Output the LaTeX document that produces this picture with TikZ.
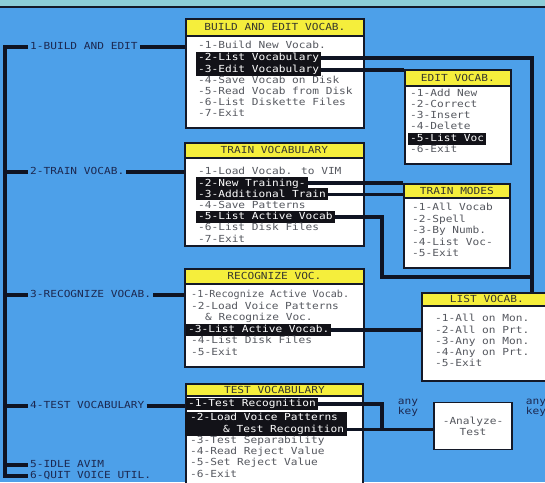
\documentclass[tikz,border=0pt]{standalone}
\usepackage{fontspec}
\newfontfamily\mono[FakeStretch=1.15]{DejaVu Sans Mono}
\newfontfamily\monon[FakeStretch=1.04]{DejaVu Sans Mono}
\definecolor{bgblue}{RGB}{77,160,233}
\definecolor{topband}{RGB}{140,205,215}
\definecolor{titleyellow}{RGB}{245,238,60}
\definecolor{boxline}{RGB}{20,25,40}
\definecolor{linedark}{RGB}{15,20,35}
\definecolor{hlblack}{RGB}{18,18,24}
\definecolor{itemgray}{RGB}{85,88,95}
\definecolor{titletext}{RGB}{55,55,45}
\definecolor{navy}{RGB}{28,40,80}
\begin{document}
\begin{tikzpicture}[x=1pt,y=-1pt,
 txt/.style={font=\mono\fontsize{9.7}{11.2}\selectfont, anchor=west, inner xsep=2pt, inner ysep=0.7pt, text height=8.3pt, text depth=2.4pt, text=itemgray},
 hl/.style={txt, fill=hlblack, text=white},
 lab/.style={txt, text=navy},
 menubox/.style={draw=boxline, line width=1.8pt, fill=white, anchor=north west, inner sep=0pt},
 titlebar/.style={menubox, fill=titleyellow, font=\mono\fontsize{9.7}{11}\selectfont, text=titletext},
 conn/.style={draw=linedark, line width=3.5pt, line join=miter}]
\useasboundingbox (0,0) rectangle (545,482);
\fill[bgblue] (0,0) rectangle (545,482);
\fill[topband] (0,0) rectangle (545,6);
\draw[boxline, line width=1.2pt] (0,7) -- (545,7);

% left menu
\node[lab] (lab1) at (28,47) {1-BUILD AND EDIT};
\node[lab] (lab2) at (28,172) {2-TRAIN VOCAB.};
\node[lab] (lab3) at (28,295) {3-RECOGNIZE VOCAB.};
\node[lab] (lab4) at (28,406) {4-TEST VOCABULARY};
\node[lab] (lab5) at (28,465) {5-IDLE AVIM};
\node[lab] (lab6) at (28,476) {6-QUIT VOICE UTIL.};

% BUILD AND EDIT VOCAB.
\node[menubox, minimum width=178pt, minimum height=109pt] (bev) at (185,18) {};
\node[titlebar, minimum width=178pt, minimum height=17pt] (bevt) at (185,18) {BUILD AND EDIT VOCAB.};
\node[txt] (b1) at (196,46) {-1-Build New Vocab.};
\node[hl] (b2) at (196,58) {-2-List Vocabulary};
\node[hl] (b3) at (196,70) {-3-Edit Vocabulary};
\node[txt] (b4) at (196,81) {-4-Save Vocab on Disk};
\node[txt] (b5) at (196,92) {-5-Read Vocab from Disk};
\node[txt] (b6) at (196,103) {-6-List Diskette Files};
\node[txt] (b7) at (196,114) {-7-Exit};

% EDIT VOCAB.
\node[menubox, minimum width=106pt, minimum height=94pt] (evb) at (404,69) {};
\node[titlebar, minimum width=106pt, minimum height=16pt] (evt) at (404,69) {EDIT VOCAB.};
\node[txt] (e1) at (408,94) {-1-Add New};
\node[txt] (e2) at (408,105) {-2-Correct};
\node[txt] (e3) at (408,116) {-3-Insert};
\node[txt] (e4) at (408,127) {-4-Delete};
\node[hl] (e5) at (408,139) {-5-List Voc};
\node[txt] (e6) at (408,150) {-6-Exit};

% TRAIN VOCABULARY
\node[menubox, minimum width=179pt, minimum height=103pt] (tvb) at (184,142) {};
\node[titlebar, minimum width=179pt, minimum height=15pt] (tvt) at (184,142) {TRAIN VOCABULARY};
\node[txt] (t1) at (196,172) {-1-Load Vocab. to VIM};
\node[hl] (t2) at (196,183.2) {-2-New Training-};
\node[hl] (t3) at (196,194.4) {-3-Additional Train};
\node[txt] (t4) at (196,205.6) {-4-Save Patterns};
\node[hl] (t5) at (196,216.8) {-5-List Active Vocab};
\node[txt] (t6) at (196,228) {-6-List Disk Files};
\node[txt] (t7) at (196,239.2) {-7-Exit};

% TRAIN MODES
\node[menubox, minimum width=106pt, minimum height=84pt] (tmb) at (403,183) {};
\node[titlebar, minimum width=106pt, minimum height=14pt] (tmt) at (403,183) {TRAIN MODES};
\node[txt] (m1) at (410,208) {-1-All Vocab};
\node[txt] (m2) at (410,219.5) {-2-Spell};
\node[txt] (m3) at (410,231) {-3-By Numb.};
\node[txt] (m4) at (410,242.5) {-4-List Voc-};
\node[txt] (m5) at (410,254) {-5-Exit};

% RECOGNIZE VOC.
\node[menubox, minimum width=179pt, minimum height=98pt] (rvb) at (184,268) {};
\node[titlebar, minimum width=179pt, minimum height=15pt] (rvt) at (184,268) {RECOGNIZE VOC.};
\node[txt, font=\monon\fontsize{9.7}{11.2}\selectfont] (r1) at (189,295) {-1-Recognize Active Vocab.};
\node[txt] (r2) at (189,307) {-2-Load Voice Patterns};
\node[txt] (r3) at (203,318) {\& Recognize Voc.};
\node[hl] (r4) at (186,330) {-3-List Active Vocab.};
\node[txt] (r5) at (189,341) {-4-List Disk Files};
\node[txt] (r6) at (189,353) {-5-Exit};

% LIST VOCAB.
\node[menubox, minimum width=130pt, minimum height=88pt] (lvb) at (421,292) {};
\node[titlebar, minimum width=130pt, minimum height=13pt] (lvt) at (421,292) {LIST VOCAB.};
\node[txt] (l1) at (433,319) {-1-All on Mon.};
\node[txt] (l2) at (433,330.5) {-2-All on Prt.};
\node[txt] (l3) at (433,342) {-3-Any on Mon.};
\node[txt] (l4) at (433,353) {-4-Any on Prt.};
\node[txt] (l5) at (433,364) {-5-Exit};

% TEST VOCABULARY
\node[menubox, minimum width=177pt, minimum height=110pt] (tsb) at (185,383) {};
\node[titlebar, minimum width=177pt, minimum height=12pt] (tst) at (185,383) {TEST VOCABULARY};
\node[hl] (s1) at (186,404) {-1-Test Recognition};
\node[fill=hlblack, minimum width=162pt, minimum height=24pt, anchor=north west, inner sep=0pt] (s2) at (185,412) {};
\node[txt, text=white] (s2a) at (188,418) {-2-Load Voice Patterns};
\node[txt, text=white] (s2b) at (221,430) {\& Test Recognition};
\node[txt] (s3) at (188,441) {-3-Test Separability};
\node[txt] (s4) at (188,452) {-4-Read Reject Value};
\node[txt] (s5) at (188,463) {-5-Set Reject Value};
\node[txt] (s6) at (188,475) {-6-Exit};

% Analyze
\node[draw=boxline, line width=1.8pt, fill=white, minimum width=78pt, minimum height=47pt, align=center, font=\mono\fontsize{9.7}{11}\selectfont, text=itemgray] (an) at (473,426) {-Analyze-\\Test};
\node[align=center, font=\mono\fontsize{9.7}{10}\selectfont, text=navy] (ak1) at (408,408) {any\\key};
\node[align=center, font=\mono\fontsize{9.7}{10}\selectfont, text=navy] (ak2) at (536,408) {any\\key};

% connectors
\coordinate (barx) at (5,0);
\coordinate (rx) at (532,0);
\coordinate (mx) at (382,0);
\coordinate (my) at (0,277);
\coordinate (y430) at (0,429.5);
\draw[conn, line width=4pt] (lab1.west) -- (lab1.west -| barx) -- (lab6.west -| barx) -- (lab6.west);
\draw[conn] (lab2.west -| barx) -- (lab2.west);
\draw[conn] (lab3.west -| barx) -- (lab3.west);
\draw[conn] (lab4.west -| barx) -- (lab4.west);
\draw[conn] (lab5.west -| barx) -- (lab5.west);
\draw[conn] (lab1.east) -- (lab1.east -| bev.west);
\draw[conn] (lab2.east) -- (lab2.east -| tvb.west);
\draw[conn] (lab3.east) -- (lab3.east -| rvb.west);
\draw[conn] (lab4.east) -- (lab4.east -| tsb.west);
\draw[conn] (b2.east) -- (b2.east -| rx) -- (lvb.north -| rx);
\draw[conn] (b3.east) -- (b3.east -| evb.west);
\draw[conn] (t2.east) -- (t2.east -| tmb.west);
\draw[conn] (t3.east) -- (t3.east -| tmb.west);
\draw[conn] (t5.east) -- (t5.east -| mx) -- (mx |- my) -- (my -| rx);
\draw[conn] (r4.east) -- (r4.east -| lvb.west);
\draw[conn] (s1.east) -- (s1.east -| mx) -- (mx |- y430);
\draw[conn] (s2.east |- y430) -- (y430 -| an.west);
\end{tikzpicture}
\end{document}
